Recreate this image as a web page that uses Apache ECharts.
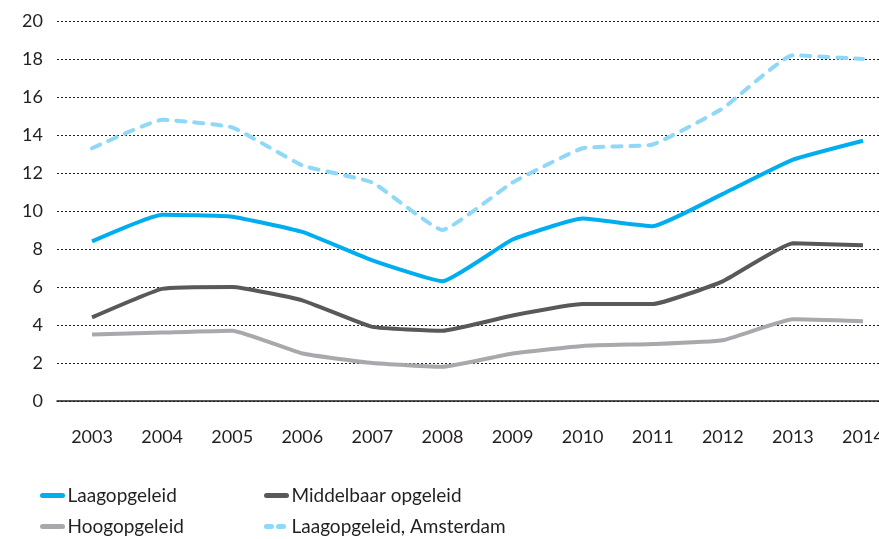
<!DOCTYPE html>
<html>
<head>
<meta charset="utf-8">
<script src="https://cdn.jsdelivr.net/npm/echarts@6/dist/echarts.min.js"></script>
<style>
  * { margin: 0; padding: 0; }
  body { background: #fff; }
  #chart { width: 879px; height: 539px; }
</style>
</head>
<body>
<div id="chart"></div>
<script>
const years = ['2003', '2004', '2005', '2006', '2007', '2008', '2009', '2010', '2011', '2012', '2013', '2014']
const laag = [8.4, 9.8, 9.7, 8.9, 7.4, 6.3, 8.5, 9.6, 9.2, 10.9, 12.7, 13.7]
const middelbaar = [4.4, 5.9, 6.0, 5.3, 3.9, 3.7, 4.5, 5.1, 5.1, 6.3, 8.3, 8.2]
const hoog = [3.5, 3.6, 3.7, 2.5, 2.0, 1.8, 2.5, 2.9, 3.0, 3.2, 4.3, 4.2]
const laagAmsterdam = [13.3, 14.8, 14.4, 12.4, 11.5, 9.0, 11.5, 13.3, 13.5, 15.4, 18.2, 18.0]

const font = 'Lato, "Noto Sans", sans-serif'
const textColor = '#231f20'

const chart = echarts.init(document.getElementById('chart'))

function line(name, data, color, dashed) {
  return {
    name: name,
    type: 'line',
    data: data,
    symbol: 'none',
    smooth: 0.12,
    itemStyle: { color: color },
    lineStyle: {
      color: color,
      width: 4,
      type: dashed ? [9, 9] : 'solid',
      cap: dashed ? 'round' : 'butt',
      join: 'round'
    }
  }
}

function legend(left, names) {
  return {
    orient: 'vertical',
    left: left,
    top: 481,
    height: 80,
    itemWidth: 20,
    itemHeight: 10,
    itemGap: 12,
    itemStyle: { opacity: 0 },
    lineStyle: { width: 5, cap: 'round' },
    textStyle: { color: textColor, fontSize: 19, fontFamily: font },
    data: names
  }
}

chart.setOption({
  animation: false,
  backgroundColor: '#fff',
  grid: { left: 57, top: 21, width: 841, bottom: 138, outerBoundsMode: 'none', containLabel: false },
  legend: [
    legend(35, ['Laagopgeleid', 'Hoogopgeleid']),
    legend(259, [
      'Middelbaar opgeleid',
      { name: 'Laagopgeleid, Amsterdam', lineStyle: { type: [5, 7], width: 5, cap: 'round' } }
    ])
  ],
  xAxis: {
    type: 'category',
    data: years,
    boundaryGap: true,
    axisLine: { lineStyle: { color: '#231f20', width: 1.5 } },
    axisTick: { alignWithLabel: true, length: 10, lineStyle: { color: '#231f20', width: 1 } },
    axisLabel: { color: textColor, fontSize: 18, fontFamily: font, margin: 27 },
    splitLine: { show: false }
  },
  yAxis: {
    type: 'value',
    min: 0, max: 20, interval: 2,
    axisLine: { show: false },
    axisTick: { show: false },
    axisLabel: { color: textColor, fontSize: 18, fontFamily: font, margin: 14 },
    splitLine: { lineStyle: { color: '#231f20', width: 1, type: [2, 2] } }
  },
  series: [
    line('Laagopgeleid', laag, '#00aeef', false),
    line('Middelbaar opgeleid', middelbaar, '#58595b', false),
    line('Hoogopgeleid', hoog, '#a7a9ac', false),
    line('Laagopgeleid, Amsterdam', laagAmsterdam, '#8fd8f7', true)
  ]
})
</script>
</body>
</html>
